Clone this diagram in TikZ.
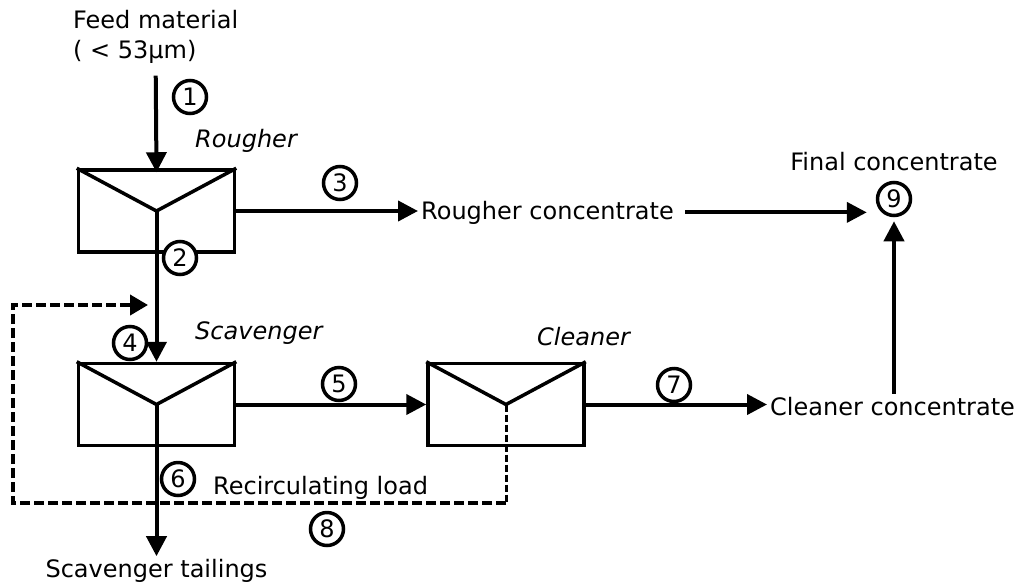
\documentclass[tikz,border=0pt]{standalone}
\usepackage{fontspec}
\setmainfont{DejaVu Sans}
\usepackage{tikz}
\usetikzlibrary{arrows.meta,positioning,calc}
\tikzset{
  cell/.style={draw, line width=3.5pt, minimum width=156pt, minimum height=82pt, inner sep=0pt},
  vee/.style={line width=3.5pt, line join=miter},
  txt/.style={font=\fontsize{24}{30}\selectfont, inner sep=3pt},
  cellname/.style={font=\fontsize{24}{30}\selectfont\itshape, inner sep=0pt},
  num/.style={draw, circle, line width=3.5pt, fill=white, minimum size=33pt, inner sep=0pt,
              font=\fontsize{24}{24}\selectfont},
  flow/.style={-{Triangle[length=20pt,width=20pt]}, line width=4pt},
  recyc/.style={-{Triangle[length=18pt,width=20pt]}, line width=4pt, dash pattern=on 10pt off 4pt},
}

\begin{document}
\begin{tikzpicture}[x=1pt, y=-1pt]
  \useasboundingbox (0,0) rectangle (1019,584);
  % flotation cells
  \node[cell] (rough) at (156.5,211) {};
  \node[cell, below=108pt of rough] (scav) {};
  \node[cell, right=190pt of scav] (clean) {};
  \draw[vee] (rough.north west) -- (rough.center) -- (rough.north east);
  \draw[vee] (scav.north west) -- (scav.center) -- (scav.north east);
  \draw[vee] (clean.north west) -- (clean.center) -- (clean.north east);
  \node[cellname, anchor=base west] (roughlbl) at (195,147) {Rougher};
  \node[cellname, anchor=base west] (scavlbl) at (195,339) {Scavenger};
  \node[cellname, anchor=base west] (cleanlbl) at (537,345) {Cleaner};
  % streams
  \node[txt, align=left, anchor=north west] (feed) at (70,7) {Feed material\\( < 53µm)};
  \node[txt, anchor=base west] (rconc) at (418,219) {Rougher concentrate};
  \node[txt, anchor=base west] (cconc) at (767,415) {Cleaner concentrate};
  \node[txt] (tail) at (156.5,571) {Scavenger tailings};
  \node[txt, anchor=base west] (recirc) at (210,494) {Recirculating load};
  \node[num] (n9) at (894,199) {9};
  \node[txt, above=7pt of n9] (fin) {Final concentrate};
  \draw[flow] ([yshift=-9pt]feed.south) -- ([yshift=-4pt]rough.north);
  \draw[flow] (rough.center) -- (scav.north);
  \draw[flow] (rough.east) -- (rough.east -| rconc.west);
  \draw[flow] ([xshift=8pt]rconc.east) -- ([xshift=-9pt]rconc.east -| n9.west);
  \draw[flow] (scav.east) -- (clean.west);
  \draw[flow] (scav.center) -- (tail);
  \draw[flow] (clean.east) -- (clean.east -| cconc.west);
  \draw[flow, shorten >=4pt] (cconc.north -| n9) -- (n9.south);
  % recirculating load
  \coordinate (loopbot) at (13,503);
  \coordinate (loopin) at (148,305);
  \coordinate (drop) at (clean.center |- loopbot);
  \draw[line width=3pt, dash pattern=on 7pt off 3pt] (clean.center) -- (drop);
  \draw[recyc] (drop) -- (loopbot) |- (loopin);
  % stream numbers
  \node[num] (n1) at (190,97) {1};
  \node[num] (n2) at (180,258) {2};
  \node[num] (n3) at (340,183) {3};
  \node[num] (n4) at (130,343) {4};
  \node[num] (n5) at (339,384) {5};
  \node[num] (n6) at (178,479) {6};
  \node[num] (n7) at (674,385) {7};
  \node[num] (n8) at (327,529) {8};
\end{tikzpicture}
\end{document}
